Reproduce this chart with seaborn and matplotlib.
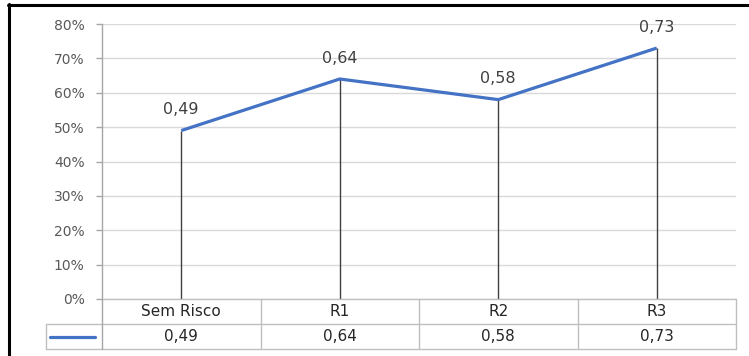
import numpy as np
import pandas as pd
import seaborn as sns
import matplotlib
matplotlib.use("Agg")
import matplotlib.pyplot as plt
from matplotlib.ticker import FuncFormatter
from matplotlib.lines import Line2D

# Series data
categories = ["Sem Risco", "R1", "R2", "R3"]
values = [0.49, 0.64, 0.58, 0.73]
y_ticks = [0.0, 0.1, 0.2, 0.3, 0.4, 0.5, 0.6, 0.7, 0.8]

sns.set_theme(style="white")
plt.rcParams["font.family"] = ["DejaVu Sans"]

W, H = 749, 356
fig = plt.figure(figsize=(W / 100, H / 100), dpi=100)
fig.patch.set_facecolor("white")

def fx(px):
    return px / W

def fy(py):
    return 1 - py / H

BLUE = "#4472C4"
GRID = "#d9d9d9"
TABLE = "#bfbfbf"
AXIS = "#a6a6a6"

# Plot area
x_left, x_right, y_top, y_bottom = 102, 736, 24, 299
ax = fig.add_axes([fx(x_left), fy(y_bottom), fx(x_right - x_left), (y_bottom - y_top) / H])
df = pd.DataFrame({"pos": np.arange(len(categories)), "cat": categories, "val": values})

sns.lineplot(data=df, x="pos", y="val", ax=ax, color=BLUE, linewidth=2.3,
             solid_capstyle="butt", zorder=4)
ax.vlines(df["pos"], 0, df["val"], color="#404040", linewidth=1.0, zorder=3)

for p, v in zip(df["pos"], df["val"]):
    ax.annotate(f"{v:.2f}".replace(".", ","), (p, v), xytext=(0, 9.5),
                textcoords="offset points", ha="center", va="bottom",
                fontsize=11.5, color="#404040")

ax.set_xlim(-0.5, len(categories) - 0.5)
ax.set_ylim(0, 0.8)
ax.set_yticks(y_ticks)
ax.yaxis.set_major_formatter(FuncFormatter(lambda v, _: f"{v * 100:.0f}%"))
ax.set_xticks([])
ax.set_xlabel("")
ax.set_ylabel("")
ax.grid(axis="y", color=GRID, linewidth=1.0)
ax.set_axisbelow(True)
for s in ["top", "right", "bottom"]:
    ax.spines[s].set_visible(False)
ax.spines["left"].set_color(AXIS)
ax.spines["left"].set_linewidth(1.0)
ax.tick_params(axis="y", which="major", left=True, length=4.5, width=1.0,
               color=AXIS, pad=8, labelsize=10, labelcolor="#595959")
ax.patch.set_alpha(0)

# Data table below the plot area
t_left, t_top, t_bottom = 46, 299, 349
tab = fig.add_axes([fx(t_left), fy(t_bottom), fx(x_right - t_left), (t_bottom - t_top) / H])
col_w = (x_right - x_left) / len(categories)
xmin = -0.5 - (x_left - t_left) / col_w
xmax = len(categories) - 0.5
tab.set_xlim(xmin, xmax)
tab.set_ylim(2, 0)
tab.axis("off")

lw = 1.0
tab.add_line(Line2D([-0.5, xmax], [0, 0], color=TABLE, lw=lw))
tab.add_line(Line2D([xmin, xmax], [1, 1], color=TABLE, lw=lw))
tab.add_line(Line2D([xmin, xmax], [2, 2], color=TABLE, lw=lw))
tab.add_line(Line2D([xmin, xmin], [1, 2], color=TABLE, lw=lw))
tab.add_line(Line2D([-0.5, -0.5], [0, 2], color=AXIS, lw=lw))
for k in range(1, len(categories) + 1):
    tab.add_line(Line2D([k - 0.5, k - 0.5], [0, 2], color=TABLE, lw=lw))
for line in tab.lines:
    line.set_clip_on(False)

for i, (c, v) in enumerate(zip(categories, values)):
    tab.text(i, 0.5, c, ha="center", va="center", fontsize=11, color="#262626")
    tab.text(i, 1.5, f"{v:.2f}".replace(".", ","), ha="center", va="center",
             fontsize=11, color="#262626")

# Legend key in the table
key_x0 = xmin + 4 / col_w
key_x1 = xmin + 49 / col_w
tab.add_line(Line2D([key_x0, key_x1], [1.5, 1.5], color=BLUE, lw=2.3,
                    solid_capstyle="round"))

# Chart frame edges
fig.add_artist(Line2D([fx(9), fx(9)], [fy(4), 0], color="black", lw=2.2,
                      transform=fig.transFigure))
fig.add_artist(Line2D([fx(8), 1], [fy(5), fy(5)], color="black", lw=2.2,
                      transform=fig.transFigure))

fig.savefig("out.png", dpi=100, facecolor="white")
